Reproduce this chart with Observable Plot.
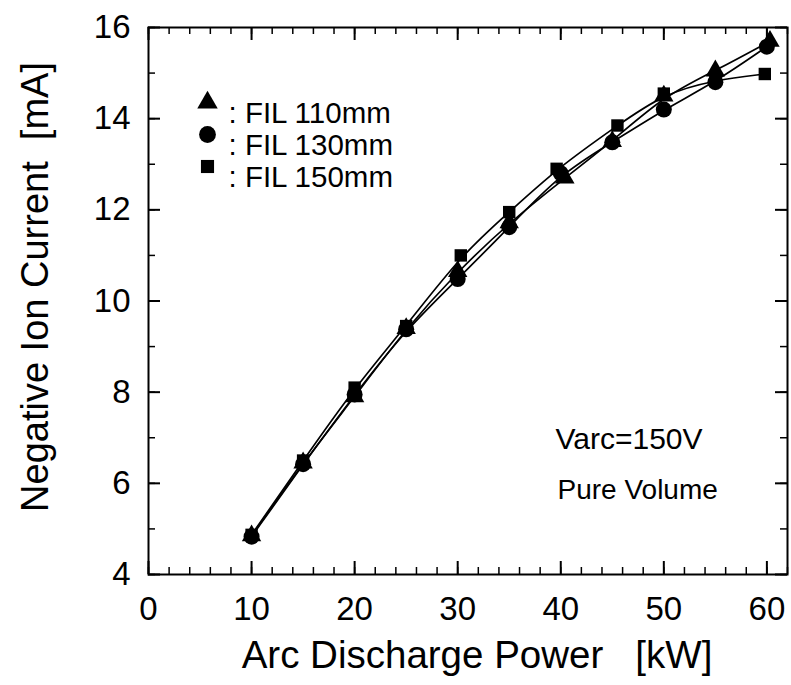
<!DOCTYPE html>
<html>
<head>
<meta charset="utf-8">
<script src="https://cdn.jsdelivr.net/npm/d3@7"></script>
<script src="https://cdn.jsdelivr.net/npm/@observablehq/plot@0.6"></script>
<style>
  html, body { margin: 0; padding: 0; background: #fff; }
  #chart svg { display: block; }
</style>
</head>
<body>
<div id="chart"></div>
<script>
// Negative ion current vs. arc discharge power for three filament positions
const seriesNames = ["FIL 110mm", "FIL 130mm", "FIL 150mm"];
const seriesSymbols = ["triangle", "circle", "square"];

const power110 = [10, 15, 20, 25, 30, 35, 40.4, 45, 50, 55, 60.3];
const current110 = [4.85, 6.45, 7.9, 9.4, 10.65, 11.72, 12.7, 13.5, 14.5, 15.05, 15.7];

const power130 = [10, 15, 20, 25, 30, 35, 40, 45, 50, 55, 60];
const current130 = [4.83, 6.42, 7.95, 9.38, 10.48, 11.62, 12.8, 13.48, 14.2, 14.8, 15.58];

const power150 = [10, 15, 20, 25, 30.3, 35, 39.6, 45.5, 50, 55, 59.8];
const current150 = [4.87, 6.5, 8.1, 9.45, 11.0, 11.95, 12.9, 13.85, 14.55, 14.85, 14.98];

const xMajor = [0, 10, 20, 30, 40, 50, 60];
const xMinor = d3.range(0, 62.1, 2);
const yMajor = [4, 6, 8, 10, 12, 14, 16];
const yMinor = d3.range(4, 16.1, 1);

const toRows = (px, py) => px.map((p, i) => ({power: p, current: py[i]}));
const series = [
  {name: seriesNames[0], symbol: seriesSymbols[0], r: 7.2, rows: toRows(power110, current110)},
  {name: seriesNames[1], symbol: seriesSymbols[1], r: 8, rows: toRows(power130, current130)},
  {name: seriesNames[2], symbol: seriesSymbols[2], r: 7, rows: toRows(power150, current150)}
];

const X0 = 0, X1 = 62, Y0 = 4, Y1 = 16;
// tick lengths expressed in data units (px / px-per-unit)
const pxPerX = (791 - 148 - 4) / (X1 - X0);
const pxPerY = (685 - 27 - 111) / (Y1 - Y0);
const xt = (px) => px / pxPerY; // vertical length for x-axis ticks
const yt = (px) => px / pxPerX; // horizontal length for y-axis ticks

const font = "'Liberation Sans', Arial, sans-serif";
const legendRowY = [75, 107, 139];

const chart = Plot.plot({
  width: 791,
  height: 685,
  marginLeft: 148,
  marginRight: 4,
  marginTop: 27,
  marginBottom: 111,
  style: {fontFamily: font, fontSize: "33px", color: "#000", background: "#fff"},
  x: {domain: [X0, X1]},
  y: {domain: [Y0, Y1]},
  marks: [
    // inward tick marks on all four sides
    Plot.ruleX(xMinor, {y1: Y0, y2: Y0 + xt(7), stroke: "#000", strokeWidth: 1.5}),
    Plot.ruleX(xMajor, {y1: Y0, y2: Y0 + xt(13), stroke: "#000", strokeWidth: 2}),
    Plot.ruleX(xMinor, {y1: Y1, y2: Y1 - xt(7), stroke: "#000", strokeWidth: 1.5}),
    Plot.ruleX(xMajor, {y1: Y1, y2: Y1 - xt(13), stroke: "#000", strokeWidth: 2}),
    Plot.ruleY(yMinor, {x1: X0, x2: X0 + yt(7), stroke: "#000", strokeWidth: 1.5}),
    Plot.ruleY(yMajor, {x1: X0, x2: X0 + yt(12), stroke: "#000", strokeWidth: 2}),
    Plot.ruleY(yMinor, {x1: X1, x2: X1 - yt(7), stroke: "#000", strokeWidth: 1.5}),
    Plot.ruleY(yMajor, {x1: X1, x2: X1 - yt(12), stroke: "#000", strokeWidth: 2}),
    Plot.frame({stroke: "#000", strokeWidth: 2}),
    Plot.axisX({ticks: xMajor, tickSize: 0, tickPadding: 22, fontSize: 33, label: null, fill: "#000"}),
    Plot.axisY({ticks: yMajor, tickSize: 0, tickPadding: 18, fontSize: 33, label: null, fill: "#000"}),
    // smoothed curves and data points, one set per filament position
    ...series.map((s) => Plot.line(s.rows, {x: "power", y: "current", curve: "basis", stroke: "#000", strokeWidth: 1.7})),
    ...series.map((s) => Plot.dot(s.rows, {x: "power", y: "current", symbol: s.symbol, r: s.r, fill: "#000", stroke: "none"})),
    // axis titles
    Plot.text(["Arc Discharge Power\u00a0\u00a0\u00a0[kW]"], {frameAnchor: "bottom", dx: 9, dy: 93, fontSize: 38.5, fill: "#000"}),
    Plot.text(["Negative Ion Current\u00a0\u00a0[mA]"], {frameAnchor: "left", dx: -113, dy: -14, rotate: -90, textAnchor: "middle", fontSize: 38, fill: "#000"}),
    // legend
    ...series.map((s, i) => Plot.dot([s.name], {frameAnchor: "top-left", dx: 59, dy: legendRowY[i], symbol: s.symbol, r: s.r + 0.4, fill: "#000", stroke: "none"})),
    ...series.map((s, i) => Plot.text([": " + s.name], {frameAnchor: "top-left", dx: 80, dy: legendRowY[i], textAnchor: "start", fontSize: 29.5, fill: "#000"})),
    // annotations
    Plot.text(["Varc=150V"], {frameAnchor: "top-left", dx: 407, dy: 400, textAnchor: "start", fontSize: 30, fill: "#000"}),
    Plot.text(["Pure Volume"], {frameAnchor: "top-left", dx: 409, dy: 452, textAnchor: "start", fontSize: 28, fill: "#000"})
  ]
});

document.getElementById("chart").appendChild(chart);
</script>
</body>
</html>
